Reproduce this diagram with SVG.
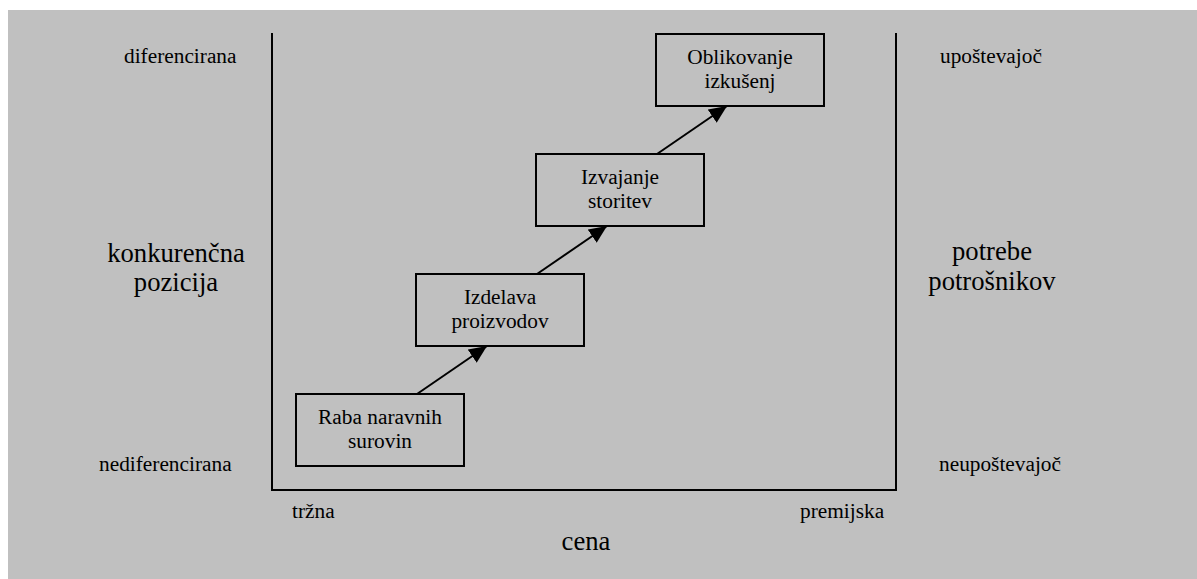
<svg xmlns="http://www.w3.org/2000/svg" width="1197" height="579" viewBox="0 0 1197 579" font-family="'Liberation Serif', serif">
  <style>
    text { font-family: 'Liberation Serif', serif; fill: #000; }
    .sm { font-size: 21.33px; }
    .lg { font-size: 26.67px; }
    .mid { text-anchor: middle; }
    .box { fill: none; stroke: #000; stroke-width: 2; }
    .axis { fill: none; stroke: #000; stroke-width: 2; }
    .conn { stroke: #000; stroke-width: 2; fill: none; marker-end: url(#arrow); }
  </style>
  <defs>
    <marker id="arrow" viewBox="0 0 10 10" refX="10" refY="5" markerWidth="18" markerHeight="16" markerUnits="userSpaceOnUse" orient="auto" preserveAspectRatio="none">
      <path d="M0,0 L10,5 L0,10 z" fill="#000"/>
    </marker>
  </defs>
  <rect x="0" y="0" width="1197" height="579" fill="#ffffff"/>
  <rect x="8" y="10" width="1189" height="569" fill="#c0c0c0"/>

  <!-- axes frame -->
  <g id="frame">
    <path class="axis" d="M272,33 V490 H896 V33"/>
  </g>

  <!-- axis labels -->
  <g id="labels">
    <text class="sm" x="124" y="63">diferencirana</text>
    <text class="sm" x="99" y="471">nediferencirana</text>
    <text class="lg mid" x="176" y="262">konkurenčna</text>
    <text class="lg mid" x="176" y="291">pozicija</text>
    <text class="sm" x="940" y="63">upoštevajoč</text>
    <text class="sm" x="939" y="471">neupoštevajoč</text>
    <text class="lg mid" x="992" y="260">potrebe</text>
    <text class="lg mid" x="992" y="290">potrošnikov</text>
    <text class="sm" x="292" y="518">tržna</text>
    <text class="sm" x="800" y="518">premijska</text>
    <text class="lg mid" x="586" y="550">cena</text>
  </g>

  <!-- connectors -->
  <g id="connectors">
    <line class="conn" x1="417" y1="394" x2="487" y2="346"/>
    <line class="conn" x1="537" y1="274" x2="607" y2="226"/>
    <line class="conn" x1="657" y1="154" x2="727" y2="106"/>
  </g>

  <g id="node-raba">
    <rect class="box" x="296" y="394" width="168" height="72"/>
    <text class="sm mid" x="380" y="424">Raba naravnih</text>
    <text class="sm mid" x="380" y="448">surovin</text>
  </g>
  <g id="node-izdelava">
    <rect class="box" x="416" y="274" width="168" height="72"/>
    <text class="sm mid" x="500" y="304">Izdelava</text>
    <text class="sm mid" x="500" y="328">proizvodov</text>
  </g>
  <g id="node-izvajanje">
    <rect class="box" x="536" y="154" width="168" height="72"/>
    <text class="sm mid" x="620" y="184">Izvajanje</text>
    <text class="sm mid" x="620" y="208">storitev</text>
  </g>
  <g id="node-oblikovanje">
    <rect class="box" x="656" y="34" width="168" height="72"/>
    <text class="sm mid" x="740" y="64">Oblikovanje</text>
    <text class="sm mid" x="740" y="88">izkušenj</text>
  </g>
</svg>
